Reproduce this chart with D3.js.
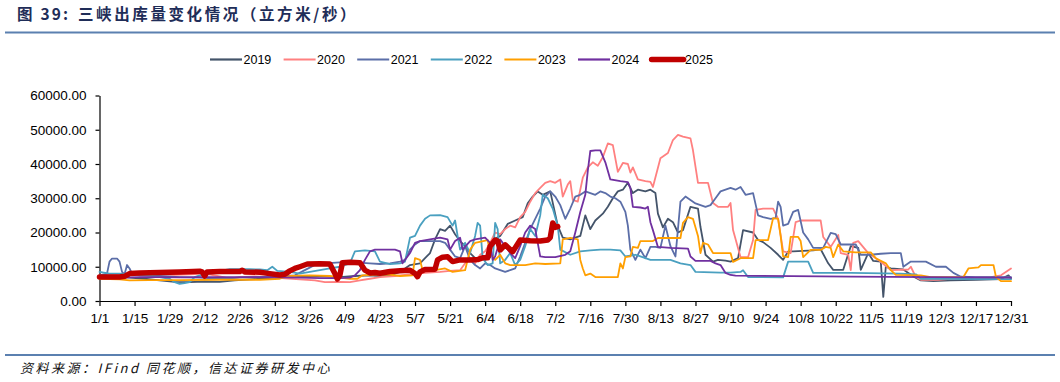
<!DOCTYPE html>
<html><head><meta charset="utf-8">
<script src="https://cdn.jsdelivr.net/npm/d3@7"></script>
<style>body{margin:0;background:#fff}text{font-family:"Liberation Sans",Arial,sans-serif}</style>
</head><body><svg id="c" width="1060" height="382"></svg>
<script>
// ---- data ----
const years = ["2019","2020","2021","2022","2023","2024","2025"];
const tickLabels = ["1/1","1/15","1/29","2/12","2/26","3/12","3/26","4/9","4/23","5/7","5/21","6/4","6/18","7/2","7/16","7/30","8/13","8/27","9/10","9/24","10/8","10/22","11/5","11/19","12/3","12/17","12/31"];
const yTicks = [0,10000,20000,30000,40000,50000,60000];
// [day of year (0 = 1/1), outflow m3/s]
const s2019 = [[0,7000],[6,7200],[12,6800],[18,6500],[24,6000],[30,5600],[36,5500],[42,5700],[48,5600],[54,6000],[60,6300],[66,6600],[72,6900],[78,7000],[84,7300],[90,7200],[96,7000],[102,7300],[108,7500],[112,7300],[116,7500],[120,8500],[124,10500],[128,11000],[130,12500],[132,14000],[134,18000],[136,21000],[138,20500],[140,22000],[142,19500],[144,17500],[146,16000],[148,14000],[150,12500],[152,12500],[154,12000],[156,12800],[157,17800],[160,19000],[163,22500],[166,23500],[169,24500],[171,28500],[173,30500],[175,32000],[177,31000],[180,32000],[183,22000],[185,18500],[188,18000],[190,18500],[192,19000],[194,25000],[196,21000],[198,23500],[201,25500],[203,27500],[205,30000],[207,32000],[209,32500],[211,34500],[213,31500],[215,32500],[218,32000],[220,32500],[222,31500],[223,25500],[225,21500],[227,24000],[229,23000],[231,20000],[233,20700],[236,27500],[239,27000],[240,21600],[242,13500],[245,11500],[247,12000],[250,11800],[252,11500],[255,12500],[257,20700],[261,20000],[263,17800],[265,17200],[268,15500],[271,13500],[273,12000],[275,14500],[277,14500],[285,14800],[288,15100],[291,11000],[293,9100],[297,9100],[300,16000],[303,15500],[304,9100],[307,14000],[309,11700],[312,11500],[313,1200],[314,10000],[316,9500],[321,9200],[323,8200],[325,7200],[328,6000],[333,5800],[340,6000],[350,6200],[360,6400],[363,7500],[364,6500]];
const s2020 = [[0,7500],[6,7800],[12,8000],[18,8200],[24,7800],[30,7600],[36,7800],[42,8000],[48,7200],[52,6500],[56,7000],[62,7200],[68,7000],[74,6600],[80,6300],[86,6000],[90,5500],[96,5600],[100,5500],[104,6000],[108,6500],[112,7000],[118,7300],[124,7800],[130,8200],[136,8500],[140,8800],[144,9000],[146,11000],[148,12500],[150,11000],[152,13500],[154,14500],[156,17000],[158,20000],[160,19500],[162,21000],[164,22000],[166,21500],[168,24500],[170,26000],[172,29000],[174,31500],[176,33000],[178,34500],[180,35000],[182,34500],[184,35500],[185,30500],[187,34000],[188,35000],[189,29500],[191,29000],[193,36000],[195,39000],[197,40500],[199,39500],[201,42000],[203,46000],[205,45500],[207,37700],[209,40300],[211,40000],[212,37500],[213,39000],[215,35500],[218,35000],[220,34800],[221,33300],[224,41700],[227,43200],[229,47000],[231,48500],[233,48000],[236,47500],[237,44000],[239,34500],[243,34500],[245,28600],[247,27500],[251,27500],[252,28600],[253,20700],[256,12800],[259,12800],[261,17800],[262,26600],[265,27000],[269,27000],[271,24000],[273,14500],[276,14000],[278,23000],[280,23500],[288,23500],[289,18700],[292,15800],[295,19300],[296,14000],[299,13500],[300,9000],[301,17000],[303,17500],[307,14000],[311,12000],[316,9000],[323,9200],[324,10000],[326,7000],[328,6200],[335,6200],[340,6500],[350,6800],[356,7000],[360,7500],[364,9500]];
const s2021 = [[0,7500],[3,8000],[4,11500],[5,12400],[7,12400],[8,11500],[9,8500],[10,7800],[11,10500],[12,9500],[13,8000],[16,7500],[24,7300],[32,7000],[40,6800],[48,6500],[56,6800],[64,7000],[72,7300],[78,7500],[82,9000],[86,10500],[90,11000],[96,11300],[102,11300],[108,11000],[112,10800],[116,11000],[120,11500],[122,12000],[124,15000],[126,16500],[128,17500],[132,17500],[136,17500],[138,17000],[140,15000],[142,13000],[144,12500],[146,16000],[148,12000],[150,10500],[152,9500],[154,11000],[156,10500],[158,9500],[160,9000],[162,8500],[164,9000],[166,9500],[168,13000],[170,17000],[172,21000],[174,24000],[176,27000],[178,30500],[180,32000],[182,30500],[184,28000],[186,24000],[188,27000],[190,30500],[192,31000],[194,32000],[196,31500],[198,31000],[200,32000],[202,31500],[204,30500],[206,30000],[208,29000],[210,26000],[211,22000],[212,15000],[214,12000],[216,15000],[218,12500],[220,15800],[222,15800],[224,15500],[226,22000],[228,16000],[230,13000],[232,29000],[234,30500],[236,29500],[238,28500],[240,28000],[242,27500],[244,28000],[246,30000],[248,32000],[250,32500],[252,33000],[254,32500],[256,33300],[258,31000],[261,31500],[263,25000],[265,24500],[268,24000],[270,24200],[271,29000],[272,27500],[273,22000],[275,22500],[277,26000],[279,26600],[281,20000],[283,18000],[285,15500],[289,15500],[292,19900],[294,19500],[296,16500],[298,16500],[302,16500],[304,13500],[308,13500],[312,13800],[316,14000],[320,14000],[321,10000],[324,11500],[330,11500],[334,10000],[338,10000],[341,8200],[344,7100],[350,7000],[360,7000],[364,7000]];
const s2022 = [[0,8500],[4,8000],[8,8000],[12,7800],[16,7800],[20,7500],[24,7000],[28,6500],[30,5500],[32,5000],[34,5200],[36,5500],[38,7000],[40,7500],[44,8000],[48,8800],[52,9300],[56,9300],[60,9300],[64,9200],[67,9000],[69,10000],[71,8800],[76,8500],[80,8000],[84,8500],[88,9000],[92,9500],[96,10000],[100,11000],[102,14500],[106,14800],[110,14500],[112,11500],[116,10800],[120,11000],[122,11500],[124,18500],[126,19000],[128,22000],[130,24000],[132,25000],[136,25100],[139,24500],[141,22000],[142,23500],[143,19000],[144,15000],[146,17000],[148,14000],[150,19000],[151,22800],[152,22000],[153,12500],[155,10500],[157,11000],[158,22800],[159,21000],[160,11000],[162,12000],[164,14000],[166,10500],[168,12000],[170,16000],[172,21000],[174,19000],[176,25000],[177,31000],[179,30000],[181,27000],[183,22000],[184,15000],[188,13500],[192,14500],[196,14800],[200,15000],[204,15000],[208,14800],[210,13000],[214,13500],[216,13000],[220,12000],[228,12000],[232,11000],[236,10500],[238,8500],[248,8300],[252,8300],[256,8500],[257,9000],[259,7000],[273,6900],[275,11500],[283,11500],[285,8200],[300,8200],[320,8000],[326,7800],[328,6500],[364,6400]];
const s2023 = [[0,6500],[8,6300],[12,6000],[20,6100],[32,6100],[48,6200],[64,6200],[72,6500],[76,7300],[84,7500],[92,7300],[96,6800],[100,6500],[103,6500],[105,7500],[110,7700],[116,7700],[120,7300],[125,7500],[126,12500],[128,12000],[129,9000],[134,9000],[138,9500],[141,8500],[146,9000],[148,15000],[150,17000],[155,17800],[156,14000],[158,12000],[160,13500],[162,11000],[164,10500],[170,10500],[174,11000],[178,10800],[184,11000],[185,18000],[188,18400],[191,18000],[192,12000],[193,9500],[194,7500],[196,8000],[198,7000],[204,7000],[207,7000],[208,11000],[209,9500],[210,12800],[212,13000],[213,15800],[215,15500],[216,17500],[221,17500],[223,18400],[232,18400],[233,22800],[235,24500],[237,24000],[239,19000],[240,14000],[241,17000],[243,16500],[245,14000],[252,14000],[253,11400],[256,12500],[261,12500],[262,17800],[267,17800],[269,24200],[271,24000],[272,19000],[273,13000],[275,12800],[276,18700],[279,18700],[280,17500],[281,12800],[284,14900],[288,14900],[290,15800],[292,15500],[293,12800],[295,16500],[297,14500],[302,14200],[308,14200],[310,12500],[314,11000],[316,9000],[318,7600],[328,7500],[332,7000],[345,7000],[347,9500],[351,9800],[352,10500],[357,10500],[358,7000],[360,5800],[364,5800]];
const s2024 = [[0,6700],[8,6800],[16,7000],[24,7000],[32,6900],[40,7000],[48,7000],[56,7000],[64,7000],[72,6900],[80,6800],[88,6700],[96,6700],[100,6800],[102,7500],[104,9000],[106,12000],[108,14500],[110,15000],[118,15000],[120,14500],[121,11000],[124,14000],[126,17000],[128,17500],[132,18000],[136,18500],[139,18000],[140,15000],[142,17500],[144,18500],[145,15000],[148,17500],[150,18000],[154,18500],[156,17000],[157,12000],[158,13000],[160,18000],[162,16000],[164,14000],[166,12500],[168,16000],[170,20000],[172,22000],[174,21000],[176,13000],[178,12800],[182,12800],[186,13500],[188,14500],[190,20000],[192,26000],[194,31000],[195,38000],[196,43800],[198,44000],[200,44000],[202,40500],[204,35500],[208,35000],[211,34700],[212,33000],[213,27500],[216,27300],[218,27000],[219,27500],[220,23000],[221,20700],[223,15800],[228,15500],[235,15300],[236,13000],[238,11700],[244,11700],[246,11000],[248,10500],[250,8200],[252,7600],[254,7400],[300,7100],[364,6800]];
const s2025 = [[0,7000],[4,7000],[8,7000],[10,7200],[12,8000],[16,8200],[24,8300],[32,8500],[40,8700],[41,8500],[42,7300],[43,8500],[48,8600],[56,8600],[57,9000],[58,8500],[64,8400],[68,8000],[72,7600],[74,7800],[76,8800],[78,9500],[80,10000],[83,10800],[88,10900],[92,10800],[94,8000],[95,6400],[96,7500],[97,11200],[100,11300],[104,11200],[106,9000],[108,8200],[110,8300],[112,8100],[116,8600],[120,8800],[124,9000],[126,8000],[127,7100],[128,8500],[130,9200],[134,9300],[135,12000],[137,12800],[139,12900],[141,11500],[144,12000],[148,12000],[151,12100],[153,12600],[155,12600],[156,16000],[158,17800],[159,17500],[160,14900],[162,16400],[165,14400],[168,17800],[172,17600],[176,17500],[179,17800],[180,18500],[181,22800],[182,21500],[183,21700]];
const seriesData = [s2019,s2020,s2021,s2022,s2023,s2024,s2025];

// ---- style ----
const colors = ["#44546a","#ff8080","#5b6ea8","#4aa0c0","#ff9f00","#7030a0","#c00000"];
const widths = [1.8,1.8,1.8,1.8,1.8,1.8,5.5];

const svg = d3.select("#c");
const x = d3.scaleLinear().domain([0,364]).range([99.5,1011]);
const y = d3.scaleLinear().domain([0,60000]).range([301,95.5]);

// title
svg.append("text").attr("x",17).attr("y",20).attr("font-size",15.5).attr("font-weight","bold")
  .attr("fill","#1f2d58").style("letter-spacing","2.2px").style("font-family","'Noto Sans CJK SC',sans-serif").text("图 39:");
svg.append("text").attr("x",78).attr("y",20).attr("font-size",15.5).attr("font-weight","bold")
  .attr("fill","#1f2d58").style("letter-spacing","2.6px").style("font-family","'Noto Sans CJK SC',sans-serif").text("三峡出库量变化情况（立方米/秒）");
svg.append("line").attr("x1",5).attr("x2",1055).attr("y1",32.5).attr("y2",32.5).attr("stroke","#5b80b0").attr("stroke-width",2);
svg.append("line").attr("x1",5).attr("x2",1055).attr("y1",355).attr("y2",355).attr("stroke","#5b80b0").attr("stroke-width",2);
svg.append("text").attr("x",20).attr("y",373).attr("font-size",13).attr("font-style","italic")
  .attr("fill","#111").style("letter-spacing","2.5px").style("font-family","'Noto Sans CJK SC',sans-serif").text("资料来源：IFind 同花顺，信达证券研发中心");

// axes
const yAxis = svg.append("g").attr("transform",`translate(${x(0)},0)`)
  .call(d3.axisLeft(y).tickValues(yTicks).tickFormat(d=>d.toFixed(2)).tickSize(4).tickSizeOuter(0).tickPadding(9));
const xAxis = svg.append("g").attr("transform",`translate(0,${y(0)})`)
  .call(d3.axisBottom(x).tickValues(tickLabels.map((_,i)=>i*14)).tickFormat((d,i)=>tickLabels[i]).tickSize(5).tickSizeOuter(0).tickPadding(7));
[yAxis,xAxis].forEach(g=>{
  g.selectAll("text").attr("font-size",13.5).attr("fill","#000").style("font-family","'Liberation Sans',Arial,sans-serif");
  g.selectAll("line,path").attr("stroke","#000").attr("stroke-width",1.2);
});

// lines
const line = d3.line().x(d=>x(d[0])).y(d=>y(d[1]));
seriesData.forEach((s,i)=>{
  svg.append("path").datum(s).attr("d",line).attr("fill","none")
    .attr("stroke",colors[i]).attr("stroke-width",widths[i])
    .attr("stroke-linejoin","round").attr("stroke-linecap","round");
});

// legend
const lg = svg.append("g");
years.forEach((yr,i)=>{
  const lx = 210 + i*73.6;
  lg.append("line").attr("x1",lx).attr("x2",lx+32).attr("y1",59.5).attr("y2",59.5)
    .attr("stroke",colors[i]).attr("stroke-width",i===6?5.5:2.2).attr("stroke-linecap",i===6?"round":"butt");
  lg.append("text").attr("x",lx+33.5).attr("y",64).attr("font-size",12.5).attr("fill","#000").text(yr);
});
</script></body></html>
